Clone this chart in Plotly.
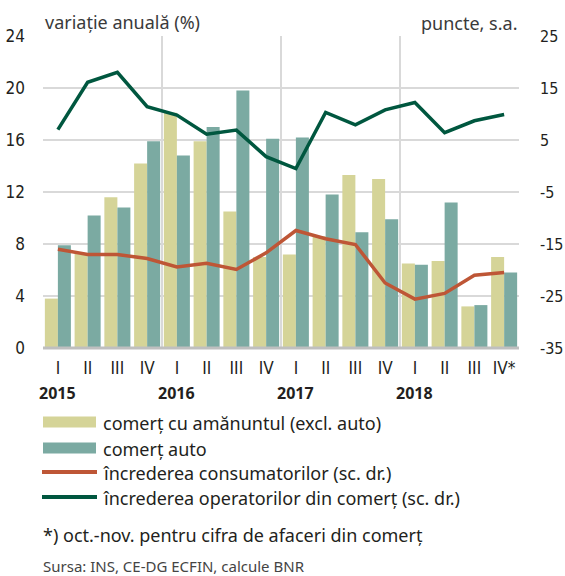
import plotly.graph_objects as go

# ---- data ----
quarters = ["I", "II", "III", "IV", "I", "II", "III", "IV",
            "I", "II", "III", "IV", "I", "II", "III", "IV*"]
years = ["2015", "2016", "2017", "2018"]
retail = [3.8, 7.3, 11.6, 14.2, 18.1, 15.9, 10.5, 7.0,
          7.2, 8.6, 13.3, 13.0, 6.5, 6.7, 3.2, 7.0]
auto = [7.9, 10.2, 10.8, 15.9, 14.8, 17.0, 19.8, 16.1,
        16.2, 11.8, 8.9, 9.9, 6.4, 11.2, 3.3, 5.8]
consumer = [-16.0, -17.0, -17.0, -17.8, -19.4, -18.7, -19.9, -16.7,
            -12.4, -14.0, -15.1, -22.5, -25.6, -24.5, -21.0, -20.5]
trade = [7.0, 16.1, 18.0, 11.4, 9.8, 6.1, 6.9, 1.8,
         -0.5, 10.3, 7.9, 10.8, 12.2, 6.4, 8.7, 9.9]
left_ticks = [0, 4, 8, 12, 16, 20, 24]
right_ticks = [-35, -25, -15, -5, 5, 15, 25]
right_ticktext = ["-35", "-25", "-15", "-5", "5", "15", "25"]

names = ["comerț cu amănuntul (excl. auto)", "comerț auto",
         "încrederea consumatorilor (sc. dr.)",
         "încrederea operatorilor din comerț (sc. dr.)"]
colors = ["#D5D498", "#7BAAA2", "#BE5636", "#00573F"]

W, H = 565, 576
L, R, T, B = 43, 519, 36, 348

x = list(range(len(quarters)))

fig = go.Figure()
fig.add_trace(go.Bar(x=x, y=retail, name=names[0], marker_color=colors[0],
                     marker_line_width=0, yaxis="y"))
fig.add_trace(go.Bar(x=x, y=auto, name=names[1], marker_color=colors[1],
                     marker_line_width=0, yaxis="y"))
fig.add_trace(go.Scatter(x=x, y=consumer, name=names[2], mode="lines",
                         line=dict(color=colors[2], width=3.5), yaxis="y2"))
fig.add_trace(go.Scatter(x=x, y=trade, name=names[3], mode="lines",
                         line=dict(color=colors[3], width=3.5), yaxis="y2"))

tickfont = dict(family="Liberation Sans Narrow, DejaVu Sans Condensed, Noto Sans, sans-serif",
                size=17, color="#231F20")
rtickfont = dict(tickfont, size=16)
grid = "#D9D9D9"

def py(p):
    return (B - p) / (B - T)

def px(p):
    return (p - L) / (R - L)

fig.update_layout(
    width=W, height=H,
    margin=dict(l=L, r=W - R, t=T, b=H - B, pad=0, autoexpand=False),
    paper_bgcolor="white", plot_bgcolor="white",
    barmode="group", bargap=0.125, bargroupgap=0,
    showlegend=False,
    font=dict(family="Noto Sans, Open Sans, sans-serif", color="#231F20"),
    xaxis=dict(range=[-0.5, len(x) - 0.5], tickmode="array", tickvals=x,
               ticktext=quarters, showgrid=False, zeroline=False,
               ticks="", tickfont=tickfont, ticklabelstandoff=8,
               tickangle=0, automargin=False, showline=False,
               minor=dict(tickmode="array",
                          tickvals=[-0.5, 3.5, 7.5, 11.5, len(x) - 0.5],
                          showgrid=True, gridcolor=grid, gridwidth=2, ticks="")),
    yaxis=dict(range=[0, 24], tickvals=left_ticks, showgrid=True,
               gridcolor=grid, gridwidth=2, zeroline=False, ticks="",
               tickfont=tickfont, ticklabelstandoff=17, showline=False,
               automargin=False),
    yaxis2=dict(range=[-35, 25], tickmode="array", tickvals=right_ticks,
                ticktext=right_ticktext, overlaying="y",
                side="right", showgrid=False, zeroline=False, ticks="",
                tickfont=rtickfont, ticklabelstandoff=20, showline=False,
                automargin=False),
)

# year labels under first quarter of each year
for i, yr in enumerate(years):
    fig.add_annotation(text=f"<b>{yr}</b>", xref="x", yref="paper",
                       x=i * 4, y=py(393), xanchor="center", yanchor="middle",
                       showarrow=False, font=dict(size=16, color="#231F20"))

# bottom axis line
fig.add_shape(type="line", xref="paper", yref="paper", x0=0, x1=1, y0=0, y1=0,
              line=dict(color="#BFBFBF", width=3), layer="above")

# axis titles
fig.add_annotation(text="variație anuală (%)", xref="paper", yref="paper",
                   x=0, y=py(22), xanchor="left", yanchor="middle",
                   showarrow=False, font=dict(size=18, color="#3A3A3A"))
fig.add_annotation(text="puncte, s.a.", xref="paper", yref="paper",
                   x=1, y=py(23), xanchor="right", yanchor="middle",
                   showarrow=False, font=dict(size=18, color="#3A3A3A"))

# custom legend
rows = [422, 448, 472, 497]
for i, (nm, c, yc) in enumerate(zip(names, colors, rows)):
    if i < 2:
        fig.add_shape(type="rect", xref="paper", yref="paper",
                      x0=px(43), x1=px(96), y0=py(yc - 5.5), y1=py(yc + 5.5),
                      fillcolor=c, line_width=0)
    else:
        fig.add_shape(type="line", xref="paper", yref="paper",
                      x0=px(42), x1=px(97), y0=py(yc), y1=py(yc),
                      line=dict(color=c, width=4))
    fig.add_annotation(text=nm, xref="paper", yref="paper", x=px(101),
                       y=py(yc + 1), xanchor="left", yanchor="middle",
                       showarrow=False, font=dict(size=18, color="#231F20"))

fig.add_annotation(text="*) oct.-nov. pentru cifra de afaceri din comerț",
                   xref="paper", yref="paper", x=px(41), y=py(535),
                   xanchor="left", yanchor="middle", showarrow=False,
                   font=dict(size=18, color="#231F20"))
fig.add_annotation(text="Sursa: INS, CE-DG ECFIN, calcule BNR",
                   xref="paper", yref="paper", x=px(41), y=py(566),
                   xanchor="left", yanchor="middle", showarrow=False,
                   font=dict(size=15, color="#444444"))

fig.write_html("out.html", config={"displayModeBar": False},
               post_script="document.body.style.margin='0';document.body.style.padding='0';")
